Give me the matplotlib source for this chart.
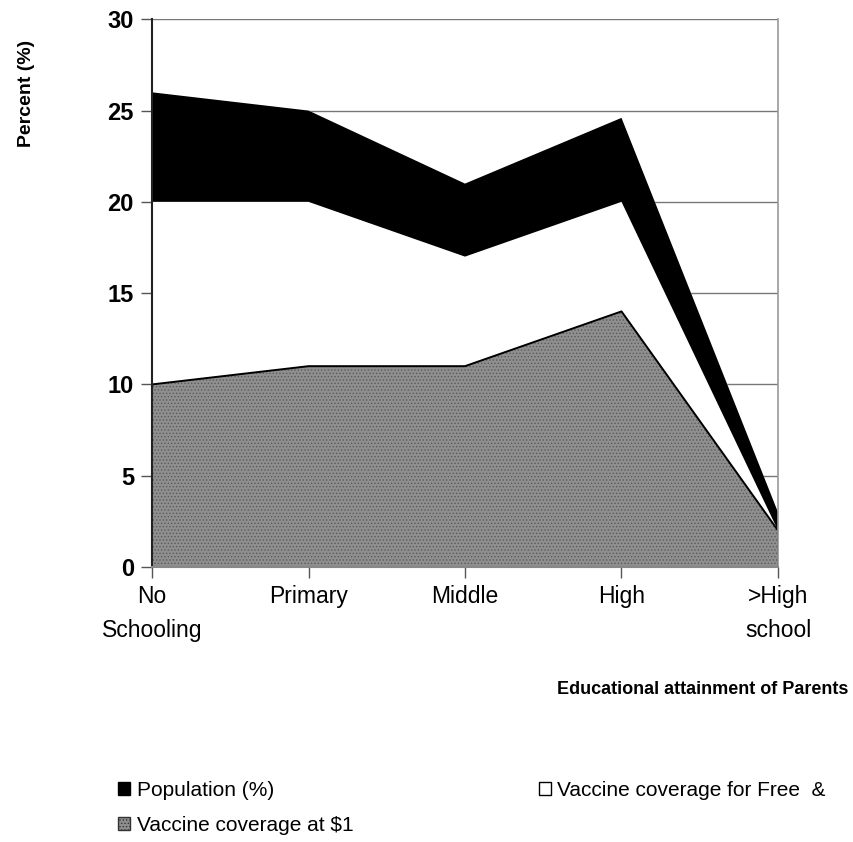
import matplotlib
matplotlib.use("Agg")
import matplotlib.pyplot as plt
from matplotlib.patches import Patch, Polygon
import numpy as np

plt.rcParams['font.family'] = ['Liberation Sans', 'DejaVu Sans']
plt.rcParams['hatch.linewidth'] = 0.6

categories = ["No\nSchooling", "Primary", "Middle", "High", ">High\nschool"]
population = [26, 25, 21, 24.6, 3]
coverage_free = [20, 20, 17, 20, 2]
coverage_1 = [10, 11, 11, 14, 2]
yticks = [0, 5, 10, 15, 20, 25, 30]

fig = plt.figure(figsize=(8.54, 8.42), dpi=100)
ax = fig.add_axes([0.178, 0.3266, 0.733, 0.6505])
x = np.arange(len(categories))
xmax = len(categories) - 1
ymax = yticks[-1]

# gridlines: only visible above the uppermost area (areas are opaque)
grid = ax.hlines(yticks[1:], 0, xmax, colors='#777777', linewidth=1.0, zorder=0.2)
top_xs = np.concatenate([x, [xmax, 0]])
top_ys = np.concatenate([np.asarray(population, float), [ymax * 2, ymax * 2]])
clip_poly = Polygon(np.column_stack([top_xs, top_ys]), closed=True,
                    transform=ax.transData, facecolor='none', edgecolor='none')
grid.set_clip_path(clip_poly)


def area(vals, **kw):
    xs = np.concatenate([x, x[::-1]])
    ys = np.concatenate([np.asarray(vals, float), np.zeros(len(vals))])
    return ax.fill(xs, ys, **kw)


area(population, facecolor='black', edgecolor='none', linewidth=0, zorder=2)
area(coverage_free, facecolor='white', edgecolor='none', linewidth=0, zorder=3)
area(coverage_1, facecolor='#8f8f8f', edgecolor='#5a5a5a', hatch='.....',
     linewidth=0, zorder=4)
ax.plot(x, coverage_1, color='black', linewidth=1.4, zorder=5)
ax.plot([x[-1], x[-1]], [0, population[-1]], color='black', linewidth=2, zorder=5)

ax.set_xlim(0, xmax)
ax.set_ylim(0, ymax)
ax.set_yticks(yticks)
ax.set_yticklabels([str(v) for v in yticks], fontweight='bold', fontsize=17)
ax.set_xticks(x)
ax.set_xticklabels(categories, fontsize=16.5, linespacing=1.6)
ax.grid(False)

ax.spines['top'].set_visible(False)
ax.spines['right'].set_color('#999999')
ax.spines['right'].set_linewidth(1.2)
ax.spines['left'].set_color('#222222')
ax.spines['bottom'].set_color('#888888')
ax.spines['left'].set_linewidth(1.5)
ax.spines['bottom'].set_linewidth(1.5)
for s in ax.spines.values():
    s.set_zorder(6)
ax.tick_params(axis='both', direction='out', length=8, width=1, color='#555555')
ax.tick_params(axis='y', pad=5)
ax.tick_params(axis='x', pad=5)

fig.text(27 / 854, 1 - 93 / 842, "Percent (%)", fontweight='bold', fontsize=14,
         rotation=90, ha='center', va='center')
fig.text(848 / 854, 1 - 690 / 842, "Educational attainment of Parents", fontsize=13,
         fontweight='bold', ha='right', va='center')

handles = [Patch(facecolor='black', edgecolor='black'),
           Patch(facecolor='#8f8f8f', edgecolor='#333333', hatch='.....'),
           Patch(facecolor='white', edgecolor='black')]
labels = ["Population (%)", "Vaccine coverage at $1", "Vaccine coverage for Free  &"]
fig.legend(handles, labels, ncol=2, loc='upper left', bbox_to_anchor=(0.138, 1 - 781 / 842),
           frameon=False, fontsize=15, handlelength=0.6, handleheight=0.6,
           handletextpad=0.3, columnspacing=8.9, labelspacing=0.75, borderaxespad=0,
           borderpad=0)

fig.savefig("out.png", dpi=100)
